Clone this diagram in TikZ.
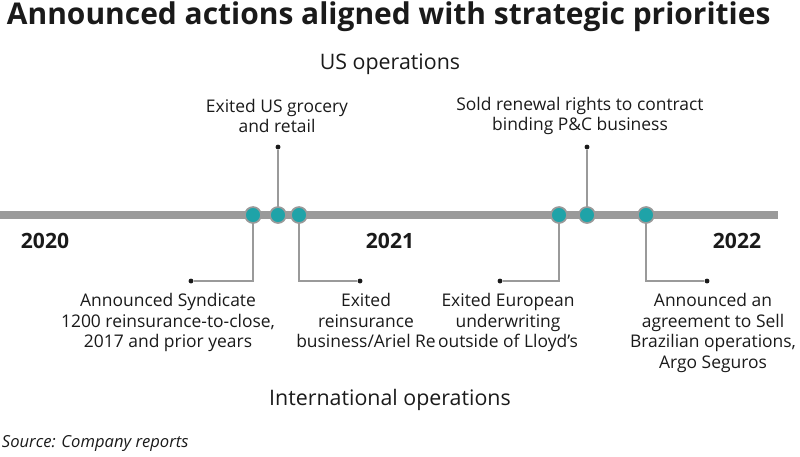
\documentclass[tikz,border=0pt]{standalone}
\usepackage{fontspec}
\setmainfont{Open Sans}
\usetikzlibrary{positioning}
\definecolor{teal}{HTML}{1FA3A8}
\definecolor{bar}{HTML}{9A9A9A}
\definecolor{ink}{HTML}{1A1A1A}
\tikzset{
  event/.style={circle, fill=teal, draw=bar, line width=1.2pt, minimum size=16\px, inner sep=0pt},
  tip/.style={circle, fill=ink, inner sep=0pt, minimum size=3.5pt},
  lead/.style={draw=bar, line width=1pt},
  note/.style={align=center, font=\fontsize{12.4}{14.8}\selectfont, text=ink},
  head/.style={font=\fontsize{15.2}{18}\selectfont, text=ink},
  year/.style={font=\bfseries\fontsize{15}{18}\selectfont, text=ink}
}
\newlength{\px}\setlength{\px}{0.025cm}
\begin{document}
\begin{tikzpicture}[x=0.025cm, y=-0.025cm]
  \useasboundingbox (0,0) rectangle (800,456);
  % Title and headers
  \node[anchor=west, font=\bfseries\fontsize{21.3}{25}\selectfont, text=ink] (title) at (2,17) {Announced actions aligned with strategic priorities};
  \node[head] (us) at (390,64) {US operations};
  \node[head] (intl) at (390,400) {International operations};
  \node[anchor=west, font=\itshape\fontsize{11.8}{14}\selectfont, text=ink] (src) at (-3,443) {Source: Company reports};
  % Timeline
  \coordinate (start) at (0,215);
  \coordinate (end) at (778,215);
  \draw[bar, line width=5pt] (start) -- (end);
  \node[year] (y20) at (45,241) {2020};
  \node[year] (y21) at (390,241) {2021};
  \node[year] (y22) at (737,241) {2022};
  % Events
  \node[tip] (t2) at (278,147) {};
  \node[tip] (t5) at (587,147) {};
  \node[tip] (t1) at (191,281) {};
  \node[tip] (t3) at (360,281) {};
  \node[tip] (t4) at (500,281) {};
  \node[tip] (t6) at (707,281) {};
  \draw[lead] (253,215) |- (t1);
  \draw[lead] (278,215) -- (t2);
  \draw[lead] (299,215) |- (t3);
  \draw[lead] (559,215) |- (t4);
  \draw[lead] (587,215) -- (t5);
  \draw[lead] (646,215) |- (t6);
  \foreach \x/\n in {253/e1, 278/e2, 299/e3, 559/e4, 587/e5, 646/e6}
    \node[event] (\n) at (\x,215) {};
  % Labels
  \node[note] (l2) at (277,116) {Exited US grocery\\and retail};
  \node[note] (l5) at (580,116) {Sold renewal rights to contract\\binding P\&C business};
  \node[note, anchor=north] (l1) at (168,288) {Announced Syndicate\\1200 reinsurance-to-close,\\2017 and prior years};
  \node[note, anchor=north] (l3) at (366,288) {Exited\\reinsurance\\business/Ariel Re};
  \node[note, anchor=north] (l4) at (508,288) {Exited European\\underwriting\\outside of Lloyd’s};
  \node[note, anchor=north] (l6) at (713,288) {Announced an\\agreement to Sell\\Brazilian operations,\\Argo Seguros};
\end{tikzpicture}
\end{document}
